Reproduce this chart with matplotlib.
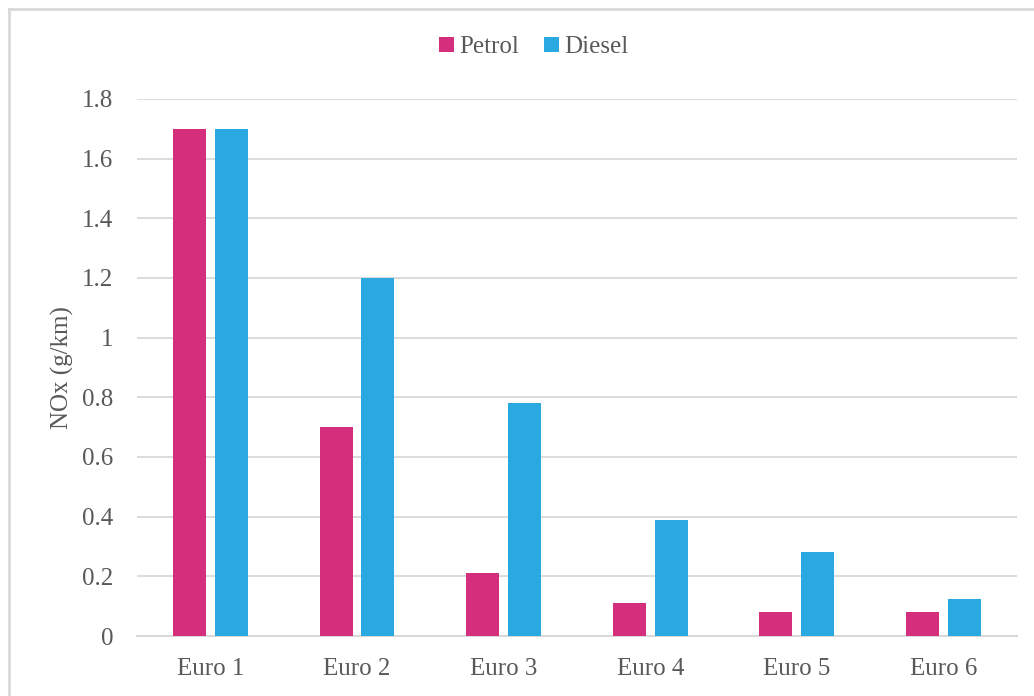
import matplotlib.pyplot as plt
import numpy as np
from matplotlib.lines import Line2D

plt.rcParams['font.family'] = ['Liberation Serif', 'DejaVu Serif']

# chart data
categories = ['Euro 1', 'Euro 2', 'Euro 3', 'Euro 4', 'Euro 5', 'Euro 6']
petrol = [1.7, 0.7, 0.21, 0.11, 0.08, 0.08]
diesel = [1.7, 1.2, 0.78, 0.39, 0.28, 0.125]
yticks = [0, 0.2, 0.4, 0.6, 0.8, 1, 1.2, 1.4, 1.6, 1.8]
ytick_labels = ['0', '0.2', '0.4', '0.6', '0.8', '1', '1.2', '1.4', '1.6', '1.8']

pink = '#D42E7C'
blue = '#29A9E0'
grey_text = '#595959'
grid_col = '#D9D9D9'

fig = plt.figure(figsize=(10.34, 6.96), dpi=100)
ax = fig.add_axes([0.1325, 0.0862, 0.851, 0.7716])

x = np.arange(len(categories))
w = 0.225
off = 0.143
ax.bar(x - off, petrol, w, color=pink, label='Petrol', zorder=3)
ax.bar(x + off, diesel, w, color=blue, label='Diesel', zorder=3)

ax.set_xlim(-0.5, len(categories) - 0.5)
ax.set_ylim(0, 1.8)
ax.set_yticks(yticks)
ax.set_yticklabels(ytick_labels)
ax.set_xticks(x)
ax.set_xticklabels(categories)
ax.tick_params(axis='both', length=0, labelsize=18, colors=grey_text)
ax.tick_params(axis='y', pad=17)
ax.tick_params(axis='x', pad=16)
ax.yaxis.grid(True, color=grid_col, linewidth=1.3, zorder=0)
for s in ['top', 'right', 'left']:
    ax.spines[s].set_visible(False)
ax.spines['bottom'].set_color(grid_col)
ax.spines['bottom'].set_linewidth(1.5)
ax.set_ylabel('NOx (g/km)', fontsize=18, color=grey_text, labelpad=6)

fig.legend(loc='center', bbox_to_anchor=(0.516, 0.932), ncol=2, frameon=False,
           fontsize=18, labelcolor=grey_text, handlelength=0.6, handleheight=0.6,
           handletextpad=0.2, columnspacing=1.0)

# outer chart border (left and top visible)
fig.add_artist(Line2D([9 / 1034, 9 / 1034], [0, 1 - 9 / 696], transform=fig.transFigure,
                      color=grid_col, linewidth=2))
fig.add_artist(Line2D([9 / 1034, 1], [1 - 9 / 696, 1 - 9 / 696], transform=fig.transFigure,
                      color=grid_col, linewidth=2))

fig.savefig('out.png', dpi=100)
